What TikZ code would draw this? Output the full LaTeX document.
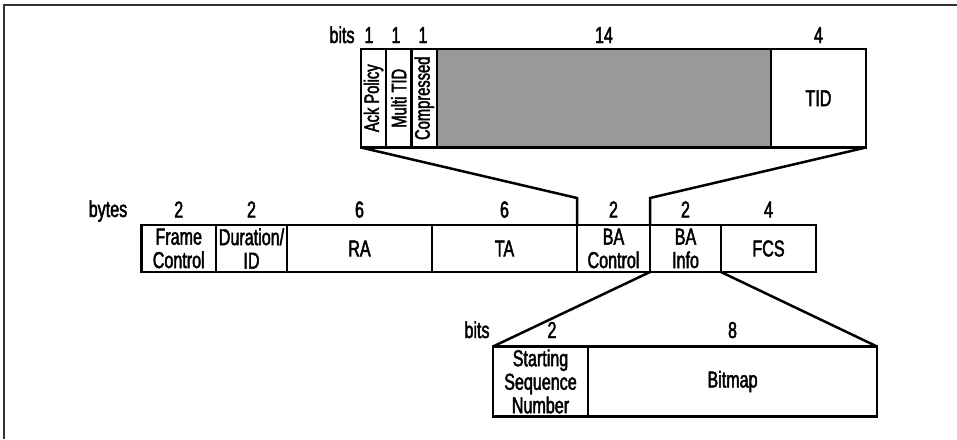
\documentclass[tikz,border=0pt]{standalone}
\usepackage{fontspec}
\setmainfont{Liberation Sans}[FakeStretch=0.7,FakeBold=2]
\newcommand\labfont{\fontsize{23}{23.5}\selectfont}
\newcommand\rotfont{\fontsize{21}{23.5}\selectfont}
\definecolor{resgray}{RGB}{153,153,153}
\definecolor{framegray}{RGB}{51,51,51}
\begin{document}
\begin{tikzpicture}[x=1pt,y=-1pt,
  field/.style={draw, line width=2.5pt, inner sep=0pt, outer sep=0pt,
    anchor=north west, align=center, font=\labfont},
  lbl/.style={inner sep=0pt, anchor=base, font=\labfont},
  vlbl/.style={rotate=90, inner sep=0pt, font=\rotfont},
  conn/.style={line width=2.5pt, line join=miter}]
\useasboundingbox (0,0) rectangle (957,439);
% outer frame (cropped at right and bottom)
\draw[line width=2pt, framegray] (3.5,439) -- (3.5,4.5) -- (957,4.5);

% top row (bits)
\node[field, minimum width=25pt, minimum height=98.5pt] (ack) at (361,49) {};
\node[vlbl] (ackt) at (ack.center) {Ack Policy};
\node[field, minimum width=25.5pt, minimum height=98.5pt] (mtid) at (386,49) {};
\node[vlbl] (mtidt) at (mtid.center) {Multi TID};
\node[field, minimum width=25.5pt, minimum height=98.5pt] (comp) at (411.5,49) {};
\node[vlbl] (compt) at (comp.center) {Compressed};
\node[field, fill=resgray, minimum width=334pt, minimum height=98.5pt] (res) at (437,49) {};
\node[field, minimum width=95pt, minimum height=98.5pt] (tid) at (771,49) {TID};

\node[lbl] (bitsT) at (342,43) {bits};
\node[lbl] (nack) at (369,43) {1};
\node[lbl] (nmtid) at (396,43) {1};
\node[lbl] (ncomp) at (423,43) {1};
\node[lbl] (nres) at ([yshift=6pt]res.north) {14};
\node[lbl] (ntid) at ([yshift=6pt]tid.north) {4};

% middle row (bytes)
\node[field, minimum width=74.5pt, minimum height=47pt] (fc) at (141.5,225) {Frame\\Control};
\node[field, minimum width=71pt, minimum height=47pt] (dur) at (216,225) {Duration/\\ID};
\node[field, minimum width=145pt, minimum height=47pt] (ra) at (287,225) {RA};
\node[field, minimum width=145pt, minimum height=47pt] (ta) at (432,225) {TA};
\node[field, minimum width=73pt, minimum height=47pt] (bac) at (577,225) {BA\\Control};
\node[field, minimum width=71pt, minimum height=47pt] (bai) at (650,225) {BA\\Info};
\node[field, minimum width=95pt, minimum height=47pt] (fcs) at (721,225) {FCS};

\node[lbl] (bytesM) at (108,217) {bytes};
\node[lbl] (nfc) at ([yshift=7.5pt]fc.north) {2};
\node[lbl] (ndur) at ([yshift=7.5pt]dur.north) {2};
\node[lbl] (nra) at ([yshift=7.5pt]ra.north) {6};
\node[lbl] (nta) at ([yshift=7.5pt]ta.north) {6};
\node[lbl] (nbac) at ([yshift=7.5pt]bac.north) {2};
\node[lbl] (nbai) at ([yshift=7.5pt]bai.north) {2};
\node[lbl] (nfcs) at ([yshift=7.5pt]fcs.north) {4};

% bottom row (bits)
\node[field, minimum width=95pt, minimum height=70pt] (ssn) at (493,346.5) {Starting\\Sequence\\Number};
\node[field, minimum width=289pt, minimum height=70pt] (bmp) at (588,346.5) {Bitmap};

\node[lbl] (bitsB) at (477,338) {bits};
\node[lbl] (nssn) at (552,338) {2};
\node[lbl] (nbmp) at ([yshift=8.5pt]bmp.north) {8};

% expansion connectors
\coordinate (bendL) at ([yshift=27pt]bac.north west);
\coordinate (bendR) at ([yshift=27pt]bai.north west);
\draw[conn] (ack.south west) -- (bendL) -- (bac.north west);
\draw[conn] (tid.south east) -- (bendR) -- (bai.north west);
\draw[conn] (bai.south west) -- (ssn.north west);
\draw[conn] (bai.south east) -- (bmp.north east);
\end{tikzpicture}
\end{document}
